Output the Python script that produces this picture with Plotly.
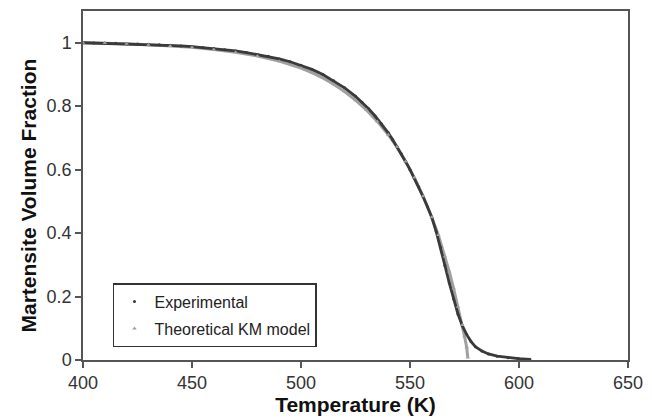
import plotly.graph_objects as go

# Experimental data (Temperature K, martensite volume fraction)
exp_T = [400, 405, 410, 415, 420, 425, 430, 435, 440, 445, 450, 455, 460, 465, 470,
         475, 480, 485, 490, 495, 500, 505, 510, 515, 520, 525, 528, 531, 534, 537,
         540, 542, 544, 546, 548, 550, 552, 554, 556, 558, 560, 562, 564, 566, 568,
         570, 572, 574, 576, 578, 580, 583, 586, 590, 595, 600, 605]
exp_f = [1.000, 0.999, 0.999, 0.998, 0.997, 0.996, 0.995, 0.994, 0.992, 0.990, 0.988,
         0.985, 0.982, 0.978, 0.974, 0.969, 0.963, 0.957, 0.949, 0.940, 0.929, 0.916,
         0.900, 0.880, 0.858, 0.831, 0.812, 0.792, 0.769, 0.744, 0.716, 0.695, 0.673,
         0.650, 0.625, 0.600, 0.573, 0.545, 0.515, 0.483, 0.449, 0.405, 0.355, 0.298,
         0.243, 0.192, 0.145, 0.108, 0.080, 0.058, 0.042, 0.028, 0.019, 0.012, 0.007,
         0.004, 0.002]

# Theoretical KM model
th_T = [400, 410, 420, 430, 440, 450, 460, 470, 480, 490, 500, 505, 510, 515, 520,
        525, 530, 535, 540, 544, 548, 552, 556, 560, 563, 566, 568, 570, 572, 574,
        575, 576, 576.5]
th_f = [1.000, 0.999, 0.997, 0.994, 0.990, 0.986, 0.979, 0.970, 0.958, 0.942, 0.920,
        0.906, 0.889, 0.869, 0.846, 0.819, 0.788, 0.752, 0.710, 0.672, 0.626, 0.575,
        0.516, 0.450, 0.394, 0.326, 0.279, 0.226, 0.168, 0.110, 0.075, 0.040, 0.008]

x_ticks = [400, 450, 500, 550, 600, 650]
y_ticks = [0, 0.2, 0.4, 0.6, 0.8, 1]
y_tick_labels = ["0", "0.2", "0.4", "0.6", "0.8", "1"]

exp_color = "#3a3a3a"
th_color = "#a0a0a0"
FONT = "Liberation Sans, Arial, sans-serif"

fig = go.Figure()
fig.add_trace(go.Scatter(x=th_T, y=th_f, mode="lines", line=dict(color=th_color, width=3),
                         showlegend=False, hoverinfo="skip"))
fig.add_trace(go.Scatter(x=exp_T, y=exp_f, mode="lines", line=dict(color=exp_color, width=2.8),
                         showlegend=False, hoverinfo="skip"))
fig.add_trace(go.Scatter(x=exp_T, y=exp_f, mode="markers", name="Experimental",
                         legendgroup="a",
                         marker=dict(color=exp_color, size=3, symbol="circle")))
fig.add_trace(go.Scatter(x=th_T, y=th_f, mode="markers", name="Theoretical KM model",
                         legendgroup="b",
                         marker=dict(color=th_color, size=4, symbol="triangle-up")))

axis_common = dict(
    showline=True, linecolor="#555555", linewidth=1.5, mirror=True,
    ticks="outside", ticklen=6, tickcolor="#555555", tickwidth=1.5,
    showgrid=False, zeroline=False,
    tickfont=dict(family=FONT, size=18, color="#333333"),
)

fig.update_layout(
    width=652, height=420,
    margin=dict(l=83, r=23, t=9, b=58),
    paper_bgcolor="white", plot_bgcolor="white",
    xaxis=dict(range=[400, 650], tickvals=x_ticks, **axis_common,
               title=dict(text="<b>Temperature (K)</b>", standoff=3,
                          font=dict(family=FONT, size=21, color="#111111"))),
    yaxis=dict(range=[0, 1.1], tickvals=y_ticks, ticktext=y_tick_labels, **axis_common),
    legend=dict(x=0.055, y=0.22, xanchor="left", yanchor="top",
                bordercolor="#333333", borderwidth=1.5, bgcolor="white",
                tracegroupgap=3,
                font=dict(family=FONT, size=16, color="#222222")),
    showlegend=True,
)

fig.add_annotation(text="<b>Martensite Volume Fraction</b>", textangle=-90,
                   xref="paper", yref="paper", x=-0.1, y=0.47,
                   xanchor="center", yanchor="middle", showarrow=False,
                   font=dict(family=FONT, size=21, color="#111111"))

fig.write_html("out.html")
